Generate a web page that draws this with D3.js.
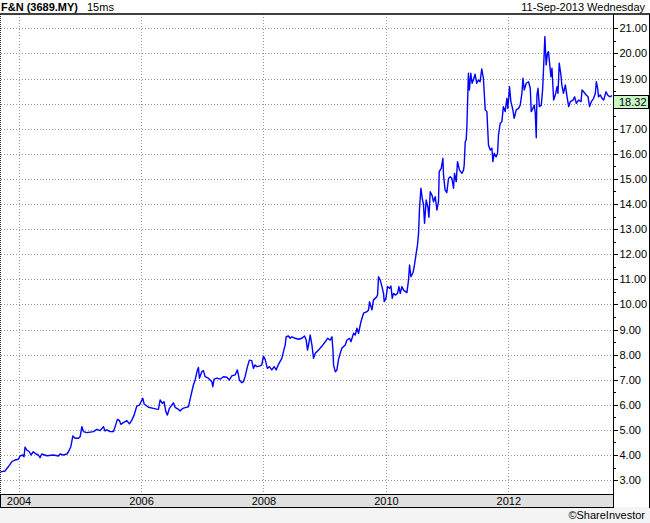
<!DOCTYPE html>
<html>
<head>
<meta charset="utf-8">
<script src="https://cdn.jsdelivr.net/npm/d3@7"></script>
<style>
  html, body { margin: 0; padding: 0; background: #ffffff; }
  svg { display: block; font-family: "Liberation Sans", Arial, sans-serif; }
</style>
</head>
<body>
<svg id="chart" width="650" height="523"></svg>
<script>
// ---- data ----
const title = "F&N (3689.MY)";
const interval = "15ms";
const dateLabel = "11-Sep-2013 Wednesday";
const credit = "\u00A9ShareInvestor";
const lastPrice = 18.32;

// dates as decimal years
const dateYears = [
  2003.706,2003.779,2003.833,2003.889,2003.915,2003.943,2003.997,2004.025,2004.069,2004.090,
  2004.106,2004.134,2004.176,2004.204,2004.242,2004.286,2004.324,2004.351,2004.379,2004.461,
  2004.569,2004.650,2004.678,2004.732,2004.788,2004.814,2004.853,2004.886,2004.923,2004.977,
  2005.005,2005.033,2005.059,2005.114,2005.222,2005.278,2005.332,2005.386,2005.413,2005.441,
  2005.495,2005.549,2005.577,2005.614,2005.647,2005.670,2005.712,2005.768,2005.810,2005.850,
  2005.887,2005.931,2005.974,2006.029,2006.051,2006.121,2006.203,2006.258,2006.284,2006.312,
  2006.350,2006.377,2006.405,2006.431,2006.464,2006.503,2006.529,2006.557,2006.611,2006.639,
  2006.683,2006.737,2006.775,2006.802,2006.856,2006.884,2006.922,2006.938,2006.954,2006.993,
  2007.020,2007.047,2007.101,2007.157,2007.173,2007.194,2007.239,2007.292,2007.346,2007.402,
  2007.444,2007.484,2007.538,2007.575,2007.608,2007.647,2007.673,2007.701,2007.739,2007.771,
  2007.810,2007.837,2007.864,2007.892,2007.946,2007.974,2008.000,2008.028,2008.065,2008.098,
  2008.137,2008.175,2008.208,2008.229,2008.261,2008.301,2008.327,2008.355,2008.371,2008.408,
  2008.436,2008.464,2008.518,2008.572,2008.627,2008.670,2008.698,2008.719,2008.742,2008.763,
  2008.791,2008.817,2008.845,2008.899,2008.954,2009.008,2009.046,2009.090,2009.118,2009.134,
  2009.144,2009.172,2009.199,2009.225,2009.253,2009.279,2009.335,2009.363,2009.405,2009.428,
  2009.471,2009.498,2009.526,2009.552,2009.592,2009.634,2009.690,2009.716,2009.732,2009.771,
  2009.797,2009.842,2009.863,2009.879,2009.907,2009.935,2009.961,2009.972,2010.000,2010.026,
  2010.059,2010.082,2010.103,2010.124,2010.152,2010.190,2010.212,2010.234,2010.261,2010.288,
  2010.343,2010.369,2010.386,2010.408,2010.441,2010.462,2010.495,2010.516,2010.533,2010.549,
  2010.572,2010.593,2010.614,2010.631,2010.658,2010.686,2010.703,2010.724,2010.752,2010.778,
  2010.806,2010.833,2010.859,2010.871,2010.904,2010.931,2010.941,2010.967,2010.995,2011.023,
  2011.051,2011.078,2011.105,2011.121,2011.149,2011.170,2011.203,2011.242,2011.268,2011.279,
  2011.296,2011.312,2011.324,2011.348,2011.364,2011.387,2011.408,2011.429,2011.457,2011.485,
  2011.511,2011.539,2011.566,2011.593,2011.623,2011.650,2011.676,2011.704,2011.732,2011.748,
  2011.770,2011.802,2011.824,2011.840,2011.868,2011.895,2011.919,2011.949,2011.977,2011.993,
  2012.020,2012.042,2012.075,2012.096,2012.129,2012.167,2012.194,2012.222,2012.239,2012.260,
  2012.292,2012.330,2012.358,2012.374,2012.402,2012.423,2012.440,2012.456,2012.467,2012.484,
  2012.507,2012.538,2012.559,2012.575,2012.596,2012.617,2012.638,2012.654,2012.671,2012.694,
  2012.712,2012.739,2012.766,2012.794,2012.810,2012.830,2012.858,2012.873,2012.899,2012.930,
  2012.958,2012.984,2013.011,2013.056,2013.082,2013.109,2013.147,2013.186,2013.203,2013.229,
  2013.271,2013.301,2013.325,2013.355,2013.392,2013.420,2013.436,2013.458,2013.472,2013.502,
  2013.529,2013.556,2013.595,2013.621,2013.654,2013.693
];
const prices = [
  3.33,3.36,3.53,3.73,3.77,3.80,3.83,3.96,4.00,3.93,
  4.31,4.20,4.13,4.00,4.13,4.04,4.00,3.89,4.04,3.97,
  4.00,3.96,4.04,4.00,4.04,4.13,4.33,4.76,4.67,4.67,
  4.73,5.13,4.93,4.89,4.93,5.02,4.97,5.13,4.96,5.00,
  4.93,4.93,5.13,5.42,5.37,5.22,5.29,5.37,5.24,5.39,
  5.59,5.95,5.99,6.26,6.03,5.90,5.86,5.83,5.82,6.19,
  6.06,6.12,5.73,5.59,5.86,5.99,6.08,5.90,5.82,5.75,
  5.86,5.90,5.92,6.23,6.79,6.99,7.39,7.49,7.06,7.32,
  7.36,7.12,7.06,6.92,6.72,7.02,7.06,7.02,7.12,7.10,
  6.99,7.15,7.19,7.39,6.99,6.88,6.92,7.12,7.52,7.78,
  7.76,7.45,7.59,7.52,7.55,7.59,7.94,7.81,7.45,7.52,
  7.39,7.52,7.39,7.52,7.68,7.85,8.12,8.38,8.71,8.74,
  8.65,8.71,8.65,8.61,8.65,8.74,8.58,8.18,8.47,8.78,
  8.38,7.85,8.05,8.18,8.34,8.51,8.65,8.58,8.71,8.18,
  7.59,7.32,7.39,7.81,8.05,8.25,8.38,8.58,8.65,8.51,
  8.85,8.78,9.05,8.85,9.31,9.65,9.71,9.78,10.11,9.78,
  10.18,10.28,10.37,11.10,10.97,10.71,10.44,10.11,10.24,10.71,
  10.64,10.73,10.24,10.44,10.37,10.44,10.71,10.44,10.71,10.57,
  10.47,10.97,11.57,11.10,11.26,11.50,12.04,12.37,12.83,13.83,
  14.63,14.23,13.96,13.23,14.16,13.87,13.47,14.49,14.36,14.09,
  14.29,13.76,14.09,15.29,15.42,15.82,15.16,14.56,14.45,15.02,
  15.09,15.02,14.63,15.22,14.89,15.69,15.35,15.22,15.35,15.55,
  16.48,16.55,17.15,19.21,18.54,19.21,18.81,18.94,19.17,18.81,
  18.94,18.87,19.38,19.01,17.75,17.68,16.35,16.15,16.22,15.69,
  16.02,15.88,16.02,16.75,17.22,17.28,17.88,17.68,18.21,17.81,
  18.67,18.08,17.75,17.41,17.75,17.81,17.94,18.41,19.01,18.54,
  18.81,18.87,18.61,17.68,17.81,17.94,17.61,16.64,18.34,18.61,
  17.88,17.94,18.54,19.41,20.67,19.54,20.00,20.07,19.67,19.07,
  19.41,18.14,18.34,18.67,18.41,19.61,19.14,18.74,18.41,18.74,
  18.27,17.88,18.08,18.14,18.27,18.01,18.14,18.08,18.54,18.47,
  18.34,18.27,17.88,18.08,18.21,18.41,18.87,18.61,18.27,18.34,
  18.21,18.14,18.47,18.34,18.27,18.32
];

const yTicks = [3,4,5,6,7,8,9,10,11,12,13,14,15,16,17,18,19,20,21];
const yMinorTicks = [3.5,4.5,5.5,6.5,7.5,8.5,9.5,10.5,11.5,12.5,13.5,14.5,15.5,16.5,17.5,18.5,19.5,20.5];
const xTickYears = [2004,2006,2008,2010,2012];

// ---- helpers ----
function yearToDate(t) {
  const yr = Math.floor(t);
  const s = Date.UTC(yr, 0, 1), e = Date.UTC(yr + 1, 0, 1);
  return new Date(s + (t - yr) * (e - s));
}
const data = dateYears.map((t, i) => ({ date: yearToDate(t), value: prices[i] }));

// ---- layout ----
const W = 650, H = 523;
const plotL = 0, plotR = 613, plotT = 14, plotB = 494, bandB = 507;

const svg = d3.select("#chart");

const x = d3.scaleUtc()
  .domain([yearToDate(2004), yearToDate(2012)])
  .range([18.5, 508.3]);
const y = d3.scaleLinear()
  .domain([3, 21])
  .range([480.1, 28.3]);

// backgrounds
svg.append("rect").attr("x", 0).attr("y", 0).attr("width", W).attr("height", H).attr("fill", "#ffffff");
svg.append("rect").attr("x", 0).attr("y", bandB).attr("width", W).attr("height", H - bandB).attr("fill", "#f4f4f4");

// header texts
svg.append("text").attr("x", 1).attr("y", 10.5)
  .attr("font-size", 11).attr("font-weight", "bold").attr("fill", "#000").text(title);
svg.append("text").attr("x", 87).attr("y", 10.5)
  .attr("font-size", 11).attr("fill", "#000").text(interval);
svg.append("text").attr("x", 645).attr("y", 10.5).attr("text-anchor", "end")
  .attr("font-size", 11).attr("fill", "#000").text(dateLabel);

// gridlines
const grid = svg.append("g").attr("stroke", "#9a9a9a").attr("stroke-width", 1)
  .attr("stroke-dasharray", "1,2").attr("shape-rendering", "crispEdges");
grid.selectAll("line.h").data(yTicks).join("line").attr("class", "h")
  .attr("x1", plotL + 1).attr("x2", plotR)
  .attr("y1", d => Math.round(y(d)) + 0.5).attr("y2", d => Math.round(y(d)) + 0.5);
grid.selectAll("line.v").data(xTickYears).join("line").attr("class", "v")
  .attr("x1", d => Math.round(x(yearToDate(d))) + 0.5).attr("x2", d => Math.round(x(yearToDate(d))) + 0.5)
  .attr("y1", plotT).attr("y2", plotB);

// left dotted edge
svg.append("line").attr("x1", 0.5).attr("x2", 0.5).attr("y1", plotT).attr("y2", plotB)
  .attr("stroke", "#222").attr("stroke-dasharray", "1,1").attr("shape-rendering", "crispEdges");

// price line
svg.append("clipPath").attr("id", "clip").append("rect")
  .attr("x", plotL).attr("y", plotT).attr("width", plotR - plotL).attr("height", plotB - plotT);
const line = d3.line().x(d => x(d.date)).y(d => y(d.value));
svg.append("path").datum(data)
  .attr("clip-path", "url(#clip)")
  .attr("fill", "none").attr("stroke", "#0000ff").attr("stroke-width", 1.4)
  .attr("stroke-linejoin", "round")
  .attr("d", line);

// bottom band with year labels
svg.append("rect").attr("x", 0.5).attr("y", plotB + 0.5).attr("width", plotR - 0.5).attr("height", bandB - plotB)
  .attr("fill", "#e0e0e0").attr("stroke", "#000").attr("stroke-width", 1).attr("shape-rendering", "crispEdges");
const xAxis = d3.axisBottom(x)
  .tickValues(xTickYears.map(yearToDate))
  .tickFormat(d3.utcFormat("%Y"))
  .tickSize(0).tickPadding(3);
const gx = svg.append("g").attr("transform", `translate(0,${plotB})`).call(xAxis);
gx.select(".domain").remove();
gx.selectAll("text").attr("font-size", 11).attr("font-family", "Liberation Sans, Arial, sans-serif").attr("fill", "#000");

// top line
svg.append("line").attr("x1", 0).attr("x2", W).attr("y1", 14).attr("y2", 14)
  .attr("stroke", "#000").attr("stroke-width", 1.5);

// right axis
svg.append("line").attr("x1", plotR + 0.5).attr("x2", plotR + 0.5).attr("y1", 14).attr("y2", bandB + 0.5)
  .attr("stroke", "#000").attr("stroke-width", 1).attr("shape-rendering", "crispEdges");
svg.append("line").attr("x1", 649.5).attr("x2", 649.5).attr("y1", 14).attr("y2", bandB + 0.5)
  .attr("stroke", "#000").attr("stroke-width", 1).attr("shape-rendering", "crispEdges");

// last price box position (labels hidden behind it are not drawn)
const ly = Math.round(y(lastPrice));
const boxTop = ly - 0.5, boxBottom = ly + 12.5;

const yAxis = d3.axisRight(y).tickValues(yTicks)
  .tickFormat(d => {
    const py = y(d);
    return (py + 6 > boxTop && py - 6 < boxBottom) ? "" : d3.format(".2f")(d);
  })
  .tickSize(4).tickPadding(2);
const gy = svg.append("g").attr("transform", `translate(${plotR + 0.5},0)`).call(yAxis);
gy.select(".domain").remove();
gy.selectAll("line").attr("stroke", "#000").attr("shape-rendering", "crispEdges");
gy.selectAll("text").attr("font-size", 11).attr("font-family", "Liberation Sans, Arial, sans-serif").attr("fill", "#000");

const yMinor = d3.axisRight(y).tickValues(yMinorTicks).tickFormat("").tickSize(2);
const gym = svg.append("g").attr("transform", `translate(${plotR + 0.5},0)`).call(yMinor);
gym.select(".domain").remove();
gym.selectAll("line").attr("stroke", "#000").attr("shape-rendering", "crispEdges");

svg.append("rect").attr("x", plotR + 0.5).attr("y", boxTop).attr("width", 648 - plotR).attr("height", 13)
  .attr("fill", "#c8f7c8").attr("stroke", "#000").attr("stroke-width", 1).attr("shape-rendering", "crispEdges");
svg.append("text").attr("x", 619).attr("y", ly + 10)
  .attr("font-size", 11).attr("fill", "#000").text(lastPrice.toFixed(2));

// credit
svg.append("text").attr("x", 645).attr("y", 519).attr("text-anchor", "end")
  .attr("font-size", 11).attr("fill", "#000").text(credit);
</script>
</body>
</html>
